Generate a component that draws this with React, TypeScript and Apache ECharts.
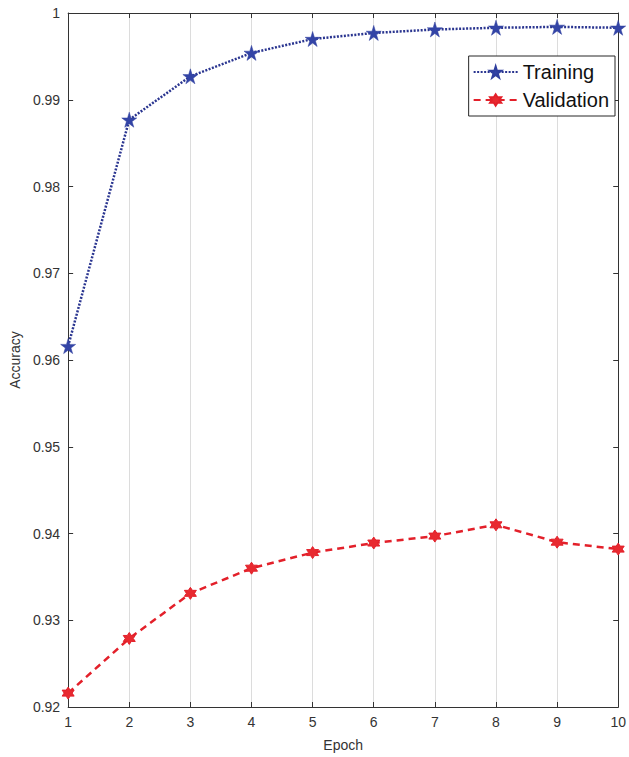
import React, { useEffect, useRef } from "react";
import * as echarts from "echarts";

const epochs = ["1", "2", "3", "4", "5", "6", "7", "8", "9", "10"];
const trainingAcc = [0.9616, 0.9877, 0.9927, 0.9954, 0.997, 0.9977, 0.9981, 0.9983, 0.9984, 0.9983];
const validationAcc = [0.9216, 0.9279, 0.9331, 0.936, 0.9378, 0.9389, 0.9397, 0.941, 0.939, 0.9382];
const yTicks = { min: 0.92, max: 1, step: 0.01 };

const STAR = "path://M50,0 L61,35 L98,35 L68,57 L79,91 L50,70 L21,91 L32,57 L2,35 L39,35 Z";
const HEXAGRAM =
  "path://M50,0 L64.43,25 L93.3,25 L78.87,50 L93.3,75 L64.43,75 L50,100 L35.57,75 L6.7,75 L21.13,50 L6.7,25 L35.57,25 Z";

const FONT = "Liberation Sans, Arial, sans-serif";
const AX = "#333333";

export default function App() {
  const ref = useRef<HTMLDivElement>(null);
  useEffect(() => {
    if (!ref.current) return;
    const chart = echarts.init(ref.current, undefined, { renderer: "svg" });
    const axisCommon = {
      axisLine: { show: true, lineStyle: { color: AX, width: 1 } },
      axisTick: { show: true, inside: true, length: 5, lineStyle: { color: AX } },
    };
    chart.setOption({
      animation: false,
      backgroundColor: "#ffffff",
      grid: { left: 67, right: 5, top: 13, bottom: 45, containLabel: false },
      legend: {
        right: 14,
        top: 56,
        orient: "vertical",
        backgroundColor: "#ffffff",
        borderColor: "#262626",
        borderWidth: 1,
        borderRadius: 0,
        padding: [6, 6, 6, 4],
        itemWidth: 44,
        itemHeight: 14,
        itemGap: 8,
        textStyle: { fontSize: 20, color: "#111", fontFamily: FONT },
        data: ["Training", "Validation"],
      },
      xAxis: [
        {
          type: "category",
          data: epochs,
          boundaryGap: false,
          name: "Epoch",
          nameLocation: "middle",
          nameGap: 31,
          nameTextStyle: { fontSize: 14, color: AX, fontFamily: FONT },
          ...axisCommon,
          axisTick: { show: true, inside: true, length: 5, interval: 0, lineStyle: { color: AX } },
          axisLabel: { fontSize: 14, color: AX, fontFamily: FONT, margin: 8, interval: 0 },
          splitLine: { show: true, interval: 0, lineStyle: { color: "#dcdcdc", width: 1 } },
        },
        {
          type: "category",
          data: epochs,
          boundaryGap: false,
          position: "top",
          ...axisCommon,
          axisTick: { show: true, inside: true, length: 5, interval: 0, lineStyle: { color: AX } },
          axisLabel: { show: false },
          splitLine: { show: false },
        },
      ],
      yAxis: [
        {
          type: "value",
          min: yTicks.min,
          max: yTicks.max,
          interval: yTicks.step,
          name: "Accuracy",
          nameLocation: "middle",
          nameGap: 45,
          nameTextStyle: { fontSize: 14, color: AX, fontFamily: FONT },
          ...axisCommon,
          axisLabel: {
            fontSize: 14,
            color: AX,
            fontFamily: FONT,
            margin: 8,
            formatter: (v: number) => {
              const r = Math.round(v * 100) / 100;
              return r === 1 ? "1" : r.toFixed(2);
            },
          },
          splitLine: { show: false },
        },
        {
          type: "value",
          min: yTicks.min,
          max: yTicks.max,
          interval: yTicks.step,
          position: "right",
          ...axisCommon,
          axisLabel: { show: false },
          splitLine: { show: false },
        },
      ],
      series: [
        {
          name: "Training",
          type: "line",
          data: trainingAcc,
          symbol: STAR,
          symbolSize: 15,
          lineStyle: { color: "#2a3590", width: 2.5, type: [2, 1.5] },
          itemStyle: { color: "#3344a6", borderColor: "#2f3e9e", borderWidth: 0.5 },
        },
        {
          name: "Validation",
          type: "line",
          data: validationAcc,
          symbol: HEXAGRAM,
          symbolSize: 12,
          lineStyle: { color: "#e3202a", width: 2.5, type: [7, 5] },
          itemStyle: { color: "#e82a30", borderColor: "#e3202a", borderWidth: 1 },
        },
      ],
    });
    return () => chart.dispose();
  }, []);
  return (
    <div
      ref={ref}
      style={{ position: "fixed", left: 0, top: 0, width: 629, height: 757, background: "#fff" }}
    />
  );
}
